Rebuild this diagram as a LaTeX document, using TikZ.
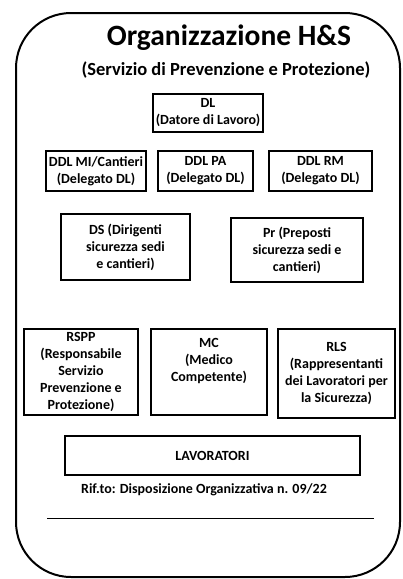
\documentclass[tikz,border=0pt]{standalone}
\usepackage{fontspec}
\setmainfont{Carlito}
\usetikzlibrary{positioning}
\tikzset{
  orgbox/.style={
    draw,
    line width=2.6pt,
    align=center,
    inner sep=2pt,
    font=\bfseries\fontsize{14}{17}\selectfont,
  },
}

\begin{document}
\begin{tikzpicture}[x=1pt,y=-1pt]
    % Styles
    \tikzstyle{frame line}=[line width=2pt,rounded corners=55pt]
    \tikzstyle{title text}=[anchor=base,font=\bfseries\fontsize{29.5}{32}\selectfont]
    \tikzstyle{subtitle text}=[anchor=base,font=\bfseries\fontsize{18.5}{21}\selectfont]
    \tikzstyle{note text}=[anchor=base,font=\bfseries\fontsize{14}{17}\selectfont]

    % The graphic
    \useasboundingbox[fill=white] (0,0) rectangle (403,579);
    \draw[style=frame line] (16,13) rectangle (400,577);

    \node[title text] (title) at (229,45) {Organizzazione H\&S};
    \node[subtitle text] (subtitle) at (226,75) {(Servizio di Prevenzione e Protezione)};

    % Datore di lavoro and delegati
    \node[orgbox,minimum width=110pt,minimum height=38pt] (dl) at (208,113)
      {DL\\(Datore di Lavoro)};
    \node[orgbox,minimum width=100pt,minimum height=40pt] (ddlmi) at (96,171)
      {DDL MI/Cantieri\\(Delegato DL)};
    \node[orgbox,minimum width=95pt,minimum height=40pt] (ddlpa) at (205.5,171)
      {DDL PA\\(Delegato DL)};
    \node[orgbox,minimum width=103pt,minimum height=40pt] (ddlrm) at (320.5,171)
      {DDL RM\\(Delegato DL)};

    % Dirigenti and preposti
    \node[orgbox,minimum width=129pt,minimum height=66pt] (ds) at (125.5,247)
      {DS (Dirigenti\\sicurezza sedi\\e cantieri)};
    \node[orgbox,minimum width=132pt,minimum height=64pt] (pr) at (297,250)
      {Pr (Preposti\\sicurezza sedi e\\cantieri)};

    % RSPP, MC, RLS
    \node[orgbox,minimum width=114pt,minimum height=86pt] (rspp) at (81,372)
      {RSPP\\(Responsabile\\Servizio\\Prevenzione e\\Protezione)};
    \node[orgbox,minimum width=116pt,minimum height=86pt] (mc) at (209,372)
      {\parbox[c][80pt][t]{108pt}{\centering\vspace*{6pt}MC\\(Medico\\Competente)}};
    \node[orgbox,minimum width=117pt,minimum height=89pt] (rls) at (336.5,373.5)
      {RLS\\(Rappresentanti\\dei Lavoratori per\\la Sicurezza)};

    \node[orgbox,minimum width=295pt,minimum height=39pt] (lav) at (212.5,455.5)
      {LAVORATORI};

    \node[note text] (rif) at (204,493) {Rif.to: Disposizione Organizzativa n. 09/22};
    \coordinate (sign l) at (47,518);
    \coordinate (sign r) at (374,518);
    \draw[line width=1pt] (sign l) -- (sign r);
\end{tikzpicture}
\end{document}
